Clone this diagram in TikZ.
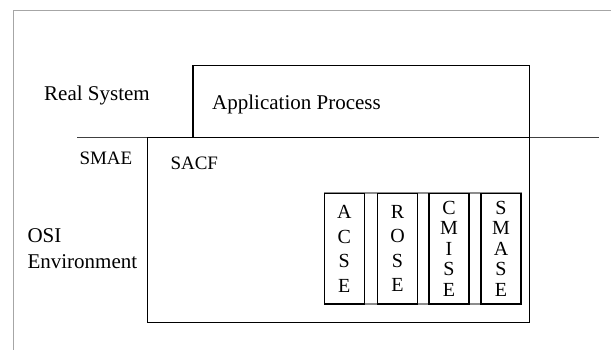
\documentclass[tikz,border=0pt]{standalone}
\usepackage{fontspec}
\setmainfont{Liberation Serif}
\begin{document}
\begin{tikzpicture}[x=1pt,y=-1pt,
  lbl/.style={anchor=base west,inner sep=0pt,font=\fontsize{21}{24}\selectfont},
  slbl/.style={anchor=base west,inner sep=0pt,font=\fontsize{19}{22}\selectfont},
  bigbox/.style={draw=black,line width=1.1pt,inner sep=0pt,rectangle},
  svcbox/.style={draw=black,line width=1.1pt,inner sep=0pt,rectangle,minimum width=40pt,minimum height=110.7pt,align=center},
  framel/.style={draw=black!35,line width=1.2pt}
]
\useasboundingbox (0,0) rectangle (611,350);
\fill[white] (0,0) rectangle (611,350);
% frame
\coordinate (ftl) at (13.3,10.3);
\coordinate (ftr) at (611,10.3);
\coordinate (fbl) at (13.3,350);
\draw[framel] (ftr) -- (ftl) -- (fbl);
% separator line
\coordinate (hl) at (77,137.7);
\coordinate (hr) at (599,137.7);
\draw[line width=1pt,black!75] (hl) -- (hr);
% boxes
\node[bigbox,minimum width=336.3pt,minimum height=72pt] (app) at (361.15,101.7) {};
\node[bigbox,minimum width=382pt,minimum height=184.6pt] (smae) at (338.3,230) {};
% strip behind service boxes
\draw[black!45,line width=1.6pt] (324.3,193.3) rectangle (520.7,304);
\node[svcbox,fill=white,font=\fontsize{20}{24.5}\selectfont] (acse) at (344.3,248.65) {A\\C\\S\\E};
\node[svcbox,fill=white,font=\fontsize{20}{24.5}\selectfont] (rose) at (397.5,248.65) {R\\O\\S\\E};
\node[svcbox,fill=white,font=\fontsize{20}{20.5}\selectfont] (cmise) at (449,248.65) {C\\M\\I\\S\\E};
\node[svcbox,fill=white,font=\fontsize{20}{20.5}\selectfont] (smase) at (501,248.65) {S\\M\\A\\S\\E};
% labels
\node[lbl] (rs) at (44,101) {Real System};
\node[lbl] (ap) at (212,109.3) {Application Process};
\node[slbl] (smaet) at (79.3,165) {SMAE};
\node[slbl] (sacf) at (170.3,170) {SACF};
\node[lbl] (osi) at (27.3,242.7) {OSI};
\node[lbl] (env) at (27.3,269) {Environment};
\end{tikzpicture}
\end{document}
